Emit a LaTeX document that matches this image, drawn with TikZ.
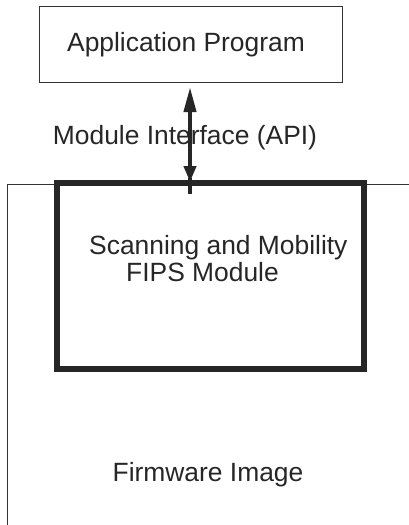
\documentclass[tikz,border=0pt]{standalone}
\usepackage{fontspec}
\setmainfont{Liberation Sans}
\usetikzlibrary{arrows.meta}
\begin{document}
\begin{tikzpicture}[x=1pt,y=-1pt,
  lbl/.style={font=\fontsize{26.4}{30}\selectfont, text=black!85, inner sep=0pt},
  thin/.style={draw=black!80, line width=0.8pt},
  thick/.style={draw=black!85, line width=6pt}]
\useasboundingbox (0,0) rectangle (409,525);
\node[thin, minimum width=303pt, minimum height=76pt, inner sep=0pt] (app) at (190.5,44) {};
\node[lbl] (apptxt) at (186,45) {Application Program};
\coordinate (fwtl) at (7,184);
\coordinate (fwtr) at (409,184);
\coordinate (fwbl) at (7,525);
\draw[thin] (fwtr) -- (fwtl) -- (fwbl);
\node[thick, minimum width=307pt, minimum height=186pt, inner sep=0pt] (mod) at (210.5,276) {};
\node[lbl] (api) at (185,138) {Module Interface (API)};
\coordinate (astart) at (190,87);
\coordinate (aend) at (190,182);
\draw[draw=black!85, line width=4pt, {Triangle[length=25pt,width=12pt]}-{Triangle[length=16pt,width=12pt]}] (astart) -- (aend);
\draw[draw=black!85, line width=4pt] (190,178) -- (190,194);
\node[lbl, anchor=west] (s1) at (89,248) {Scanning and Mobility};
\node[lbl, anchor=west] (s2) at (126,272) {FIPS Module};
\node[lbl] (fw) at (208,475) {Firmware Image};
\end{tikzpicture}
\end{document}
